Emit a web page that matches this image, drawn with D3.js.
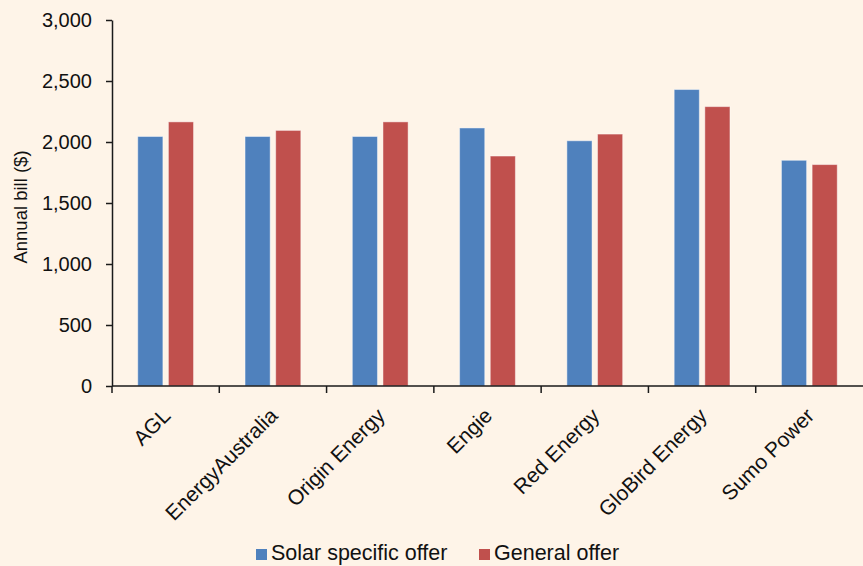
<!DOCTYPE html>
<html><head><meta charset="utf-8">
<script src="https://cdn.jsdelivr.net/npm/d3@7"></script>
<style>
html,body{margin:0;padding:0;background:#FEF4E8;}
svg{display:block;font-family:"Liberation Sans",Arial,sans-serif;}
</style></head>
<body>
<svg id="chart" width="863" height="566"></svg>
<script>
const categories = ["AGL","EnergyAustralia","Origin Energy","Engie","Red Energy","GloBird Energy","Sumo Power"];
const solarOffer = [2045, 2045, 2045, 2115, 2010, 2430, 1850];
const generalOffer = [2165, 2095, 2165, 1885, 2065, 2290, 1815];
const seriesNames = ["Solar specific offer","General offer"];
const seriesColors = ["#4F81BD","#C0504D"];
const yTicks = [0,500,1000,1500,2000,2500,3000];

(function(){
const svg = d3.select("#chart");
svg.append("rect").attr("width",863).attr("height",566).attr("fill","#FEF4E8");

const mLeft = 112, mRight = 863, mTop = 20, mBottom = 386;
const x = d3.scaleBand().domain(categories).range([mLeft, mRight]).padding(0);
const inner = d3.scaleBand().domain([0,1]).range([x.bandwidth()*0.24, x.bandwidth()*0.76]).paddingInner(0.18);
const y = d3.scaleLinear().domain([0,3000]).range([mBottom, mTop]);

const data = categories.map((c,i)=>({c, vals:[solarOffer[i], generalOffer[i]]}));
const g = svg.append("g");
data.forEach(d=>{
  d.vals.forEach((v,k)=>{
    g.append("rect")
      .attr("x", x(d.c)+inner(k))
      .attr("y", y(v))
      .attr("width", inner.bandwidth())
      .attr("height", y(0)-y(v))
      .attr("fill", seriesColors[k])
      .attr("stroke","rgba(255,255,255,0.45)")
      .attr("stroke-width",1);
  });
});

const yAxis = svg.append("g").attr("transform",`translate(${mLeft},0)`)
  .call(d3.axisLeft(y).tickValues(yTicks).tickFormat(d3.format(",")).tickSize(6).tickPadding(14).tickSizeOuter(0));
yAxis.select(".domain").attr("stroke","#1a1a1a").attr("stroke-width",1.5);
yAxis.selectAll(".tick line").attr("stroke","#1a1a1a").attr("stroke-width",1.5);
yAxis.selectAll(".tick text").attr("font-size",20).attr("fill","#111").attr("font-family","Liberation Sans, Arial, sans-serif");

const xg = svg.append("g");
xg.append("line").attr("x1",mLeft).attr("x2",mRight).attr("y1",mBottom).attr("y2",mBottom)
  .attr("stroke","#1a1a1a").attr("stroke-width",1.5);
categories.forEach(c=>{
  xg.append("line").attr("x1",x(c)).attr("x2",x(c)).attr("y1",mBottom).attr("y2",mBottom+7)
    .attr("stroke","#1a1a1a").attr("stroke-width",1.5);
});
categories.forEach(c=>{
  const cx = x(c)+x.bandwidth()/2;
  xg.append("text")
    .attr("transform",`translate(${cx+6},${mBottom+31}) rotate(-45)`)
    .attr("text-anchor","end")
    .attr("font-size",21).attr("fill","#111")
    .text(c);
});

svg.append("text")
  .attr("transform",`translate(27,${(mTop+mBottom)/2+4}) rotate(-90)`)
  .attr("text-anchor","middle").attr("font-size",18.5).attr("fill","#111")
  .text("Annual bill ($)");

const legX = [256, 479];
seriesNames.forEach((n,k)=>{
  svg.append("rect").attr("x",legX[k]).attr("y",549).attr("width",11).attr("height",11).attr("fill",seriesColors[k]);
  svg.append("text").attr("x",legX[k]+15).attr("y",560).attr("font-size",21.5).attr("fill","#111").text(n);
});
})();
</script>
</body></html>
